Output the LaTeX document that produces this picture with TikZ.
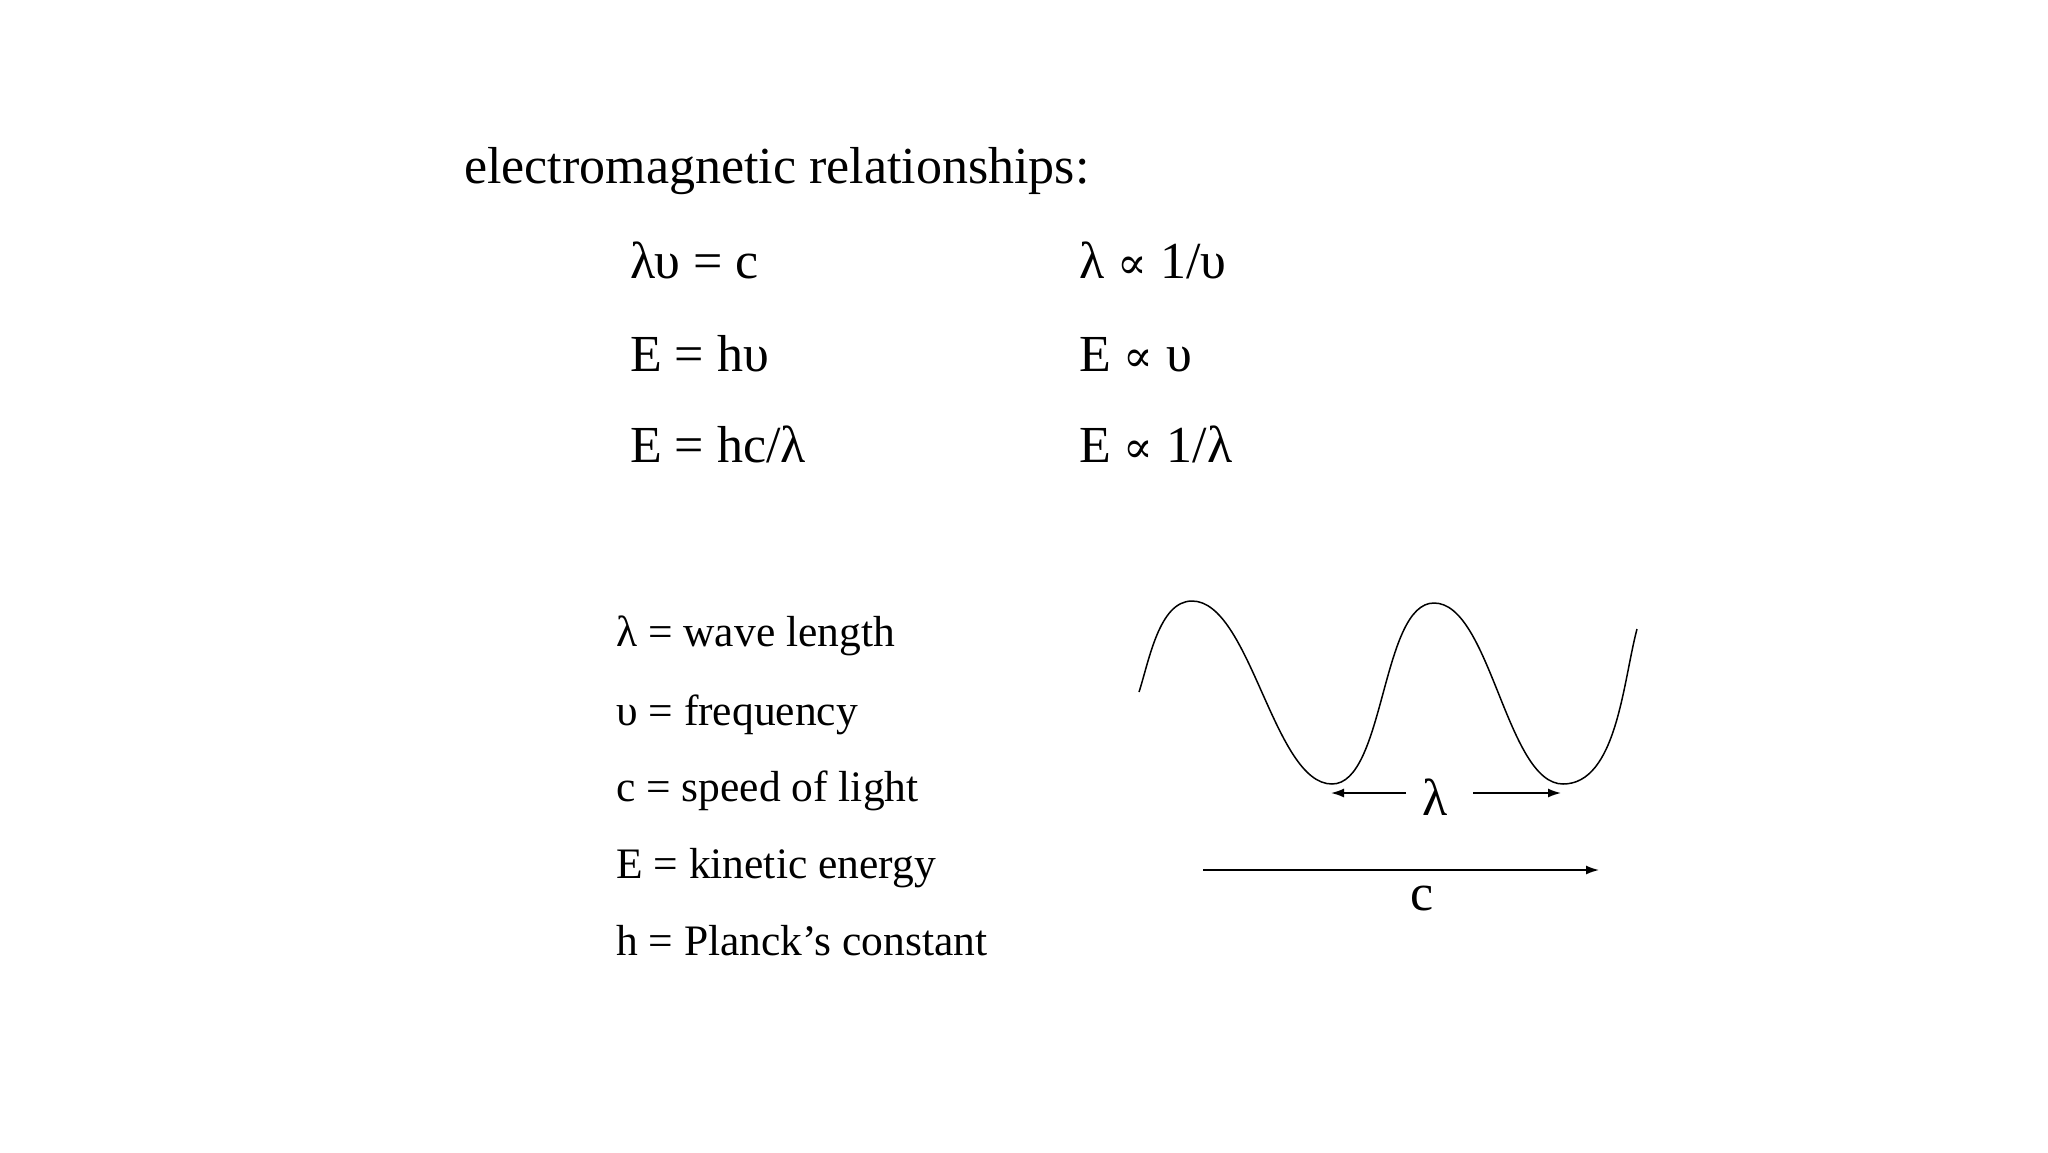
\documentclass[tikz,border=0pt]{standalone}
\usepackage{fontspec}
\setmainfont{Liberation Serif}
\newfontfamily\symfont{DejaVu Serif}
\usetikzlibrary{arrows.meta}
\newcommand{\prop}{{\symfont\fontsize{44}{50}\selectfont ∝}}
\begin{document}
\begin{tikzpicture}[x=1pt,y=1pt,
  big/.style={anchor=base west,inner sep=0pt,font=\fontsize{52}{60}\selectfont},
  small/.style={anchor=base west,inner sep=0pt,font=\fontsize{43.5}{50}\selectfont},
  arr/.style={-{Latex[length=13pt,width=9pt]},line width=1.6pt}]
\useasboundingbox (0,0) rectangle (2048,-1152);
\node[big] (title) at (464,-183) {electromagnetic relationships:};
\node[big] (e1) at (630,-278) {λυ = c};
\node[big] (e2) at (630,-371) {E = hυ};
\node[big] (e3) at (630,-462) {E = hc/λ};
\node[big] (p1) at (1079,-278) {λ \prop{} 1/υ};
\node[big] (p2) at (1079,-371) {E \prop{} υ};
\node[big] (p3) at (1079,-462) {E \prop{} 1/λ};
\node[small] (d1) at (616,-646) {λ = wave length};
\node[small] (d2) at (616,-725) {υ = frequency};
\node[small] (d3) at (616,-801) {c = speed of light};
\node[small] (d4) at (616,-878) {E = kinetic energy};
\node[small] (d5) at (616,-955) {h = Planck’s constant};
\draw[line width=1.5pt] (1139,-692) to[out=72,in=180,looseness=0.8] (1192,-601)
  to[out=0,in=180,looseness=0.65] (1332,-784)
  to[out=0,in=180,looseness=0.65] (1434,-603)
  to[out=0,in=180,looseness=0.65] (1563,-784)
  to[out=0,in=-105,looseness=0.8] (1637,-629);
\coordinate (t1) at (1331,-793);
\coordinate (t2) at (1561,-793);
\node[font=\fontsize{52}{60}\selectfont,inner sep=0pt] (lam) at (1435,-797) {λ};
\draw[arr] (1406,-793) -- (t1);
\draw[arr] (1473,-793) -- (t2);
\coordinate (c0) at (1203,-870);
\coordinate (c1) at (1599,-870);
\draw[arr] (c0) -- (c1);
\node[font=\fontsize{52}{60}\selectfont,inner sep=0pt] (clab) at (1422,-898) {c};
\end{tikzpicture}
\end{document}
